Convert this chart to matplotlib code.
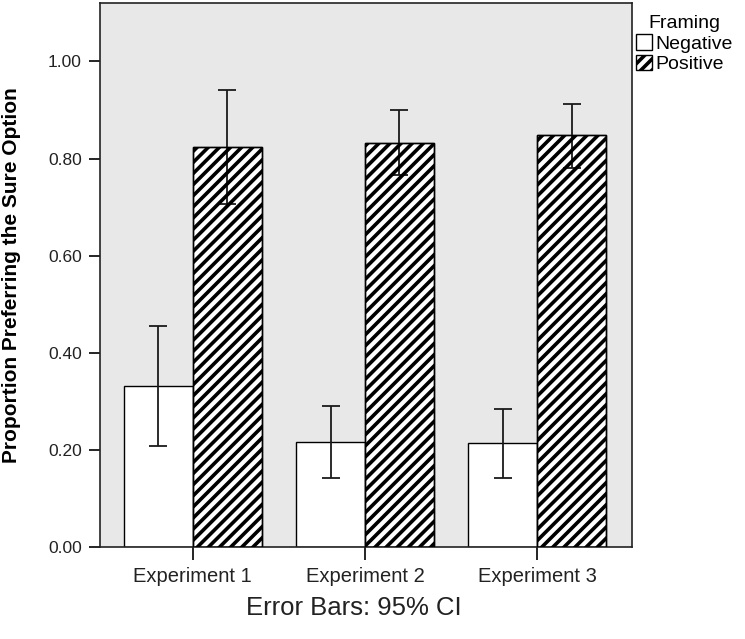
import numpy as np
import matplotlib
matplotlib.use('Agg')
import matplotlib.pyplot as plt

plt.rcParams['font.family'] = ['Liberation Sans', 'DejaVu Sans']
plt.rcParams['hatch.linewidth'] = 2.6

# data
experiments = ['Experiment 1', 'Experiment 2', 'Experiment 3']
negative = [0.332, 0.216, 0.214]
negative_lo = [0.207, 0.142, 0.142]
negative_hi = [0.456, 0.291, 0.285]
positive = [0.823, 0.833, 0.848]
positive_lo = [0.706, 0.767, 0.781]
positive_hi = [0.942, 0.899, 0.913]
yticks = [0.0, 0.2, 0.4, 0.6, 0.8, 1.0]

fig = plt.figure(figsize=(7.45, 6.39), dpi=100)
ax = fig.add_axes([0.134, 0.144, 0.714, 0.851])
ax.set_facecolor('#e8e8e8')

x = np.arange(len(experiments))
w = 0.4

neg = np.array(negative)
pos = np.array(positive)
neg_err = [neg - np.array(negative_lo), np.array(negative_hi) - neg]
pos_err = [pos - np.array(positive_lo), np.array(positive_hi) - pos]

ax.bar(x - w / 2, neg, w, color='white', edgecolor='black', linewidth=1, label='Negative', zorder=2)
ax.bar(x + w / 2, pos, w, color='white', edgecolor='black', linewidth=1, zorder=2)
ax.errorbar(x - w / 2, neg, yerr=neg_err, fmt='none', ecolor='#1a1a1a', elinewidth=1.3, capsize=6.5, capthick=1.3, zorder=3)
ax.errorbar(x + w / 2, pos, yerr=pos_err, fmt='none', ecolor='#1a1a1a', elinewidth=1.3, capsize=6.5, capthick=1.3, zorder=3)
# hatch drawn over the error bars, like the original
ax.bar(x + w / 2, pos, w, color='none', edgecolor='black', hatch='///', linewidth=1, label='Positive', zorder=4)

ax.set_xlim(-0.54, 2.55)
ax.set_ylim(0, 1.12)
ax.set_yticks(yticks)
ax.set_yticklabels(['%.2f' % t for t in yticks], fontsize=12.5, color='#222222')
ax.set_xticks(x)
ax.set_xticklabels(experiments, fontsize=14.5, color='#222222')
ax.tick_params(axis='y', length=8, width=1.2, pad=5)
ax.tick_params(axis='x', length=9.5, width=1.2, pad=5)
for s in ax.spines.values():
    s.set_linewidth(1.2)
    s.set_color('#222222')

ax.set_ylabel('Proportion Preferring the Sure Option', fontsize=15, fontweight='bold')
ax.yaxis.set_label_coords(-0.148, 0.5)

leg = ax.legend(title='Framing', loc='upper left', bbox_to_anchor=(1.0, 0.985),
                frameon=False, fontsize=14, title_fontsize=14,
                handlelength=0.85, handleheight=0.85, handletextpad=0.15,
                labelspacing=0.1, borderaxespad=0.1, borderpad=0.1)
leg._legend_box.align = 'center'

fig.text(0.475, 0.049, 'Error Bars: 95% CI', fontsize=18.5, ha='center', va='center', color='#222222')

fig.savefig('out.png', dpi=100)
